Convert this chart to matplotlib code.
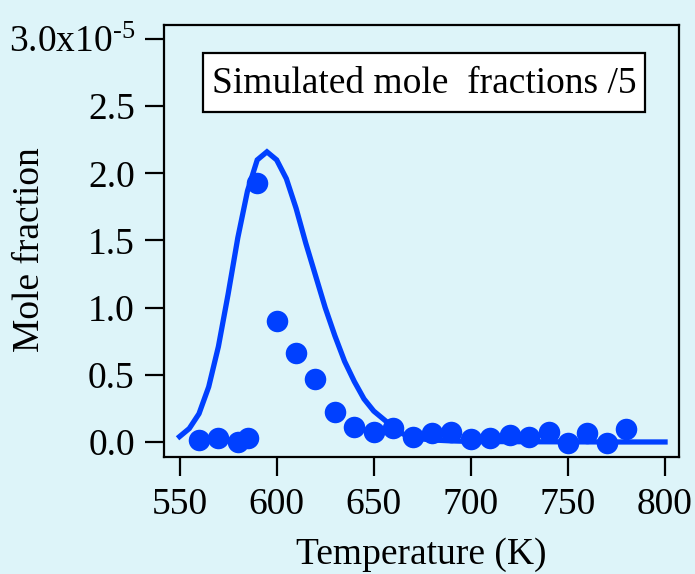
import numpy as np
import matplotlib
matplotlib.use("Agg")
import matplotlib.pyplot as plt
from matplotlib.patches import Rectangle

plt.rcParams['font.family'] = ['Liberation Serif', 'DejaVu Serif']
plt.rcParams['mathtext.default'] = 'regular'

# Simulated mole fraction curve (already divided by 5), units of 1e-5
sim_temp = [550, 555, 560, 565, 570, 575, 580, 585, 590, 595, 600, 605, 610,
            615, 620, 625, 630, 635, 640, 645, 650, 655, 660, 665, 670, 680,
            690, 700, 725, 750, 775, 800]
sim_frac = [0.04, 0.10, 0.21, 0.41, 0.71, 1.10, 1.52, 1.87, 2.10, 2.16, 2.10,
            1.96, 1.74, 1.48, 1.24, 1.00, 0.79, 0.60, 0.45, 0.32, 0.23, 0.17,
            0.11, 0.06, 0.03, 0.015, 0.008, 0.004, 0.002, 0.001, 0.0, 0.0]

# Measured mole fractions, units of 1e-5
exp_temp = [560, 570, 580, 585, 590, 600, 610, 620, 630, 640, 650, 660, 670,
            680, 690, 700, 710, 720, 730, 740, 750, 760, 770, 780]
exp_frac = [0.015, 0.03, 0.0, 0.03, 1.93, 0.90, 0.66, 0.47, 0.225, 0.11, 0.072,
            0.107, 0.04, 0.065, 0.077, 0.02, 0.032, 0.052, 0.04, 0.077, -0.005,
            0.065, -0.005, 0.10]

y_ticks = [0.0, 0.5, 1.0, 1.5, 2.0, 2.5, 3.0]
y_tick_labels = ['0.0', '0.5', '1.0', '1.5', '2.0', '2.5',
                 '3.0x10$^{\u20105}$']
x_ticks = [550, 600, 650, 700, 750, 800]

scale = 1e-5
bg = '#ddf4f9'
blue = '#0040ff'
fs = 27

fig = plt.figure(figsize=(6.95, 5.74), dpi=100, facecolor=bg)
ax = fig.add_axes([0.236, 0.2038, 0.741, 0.7526], facecolor=bg)

ax.plot(sim_temp, np.array(sim_frac) * scale, color=blue, lw=3.8,
        solid_joinstyle='miter', zorder=2)
ax.plot(exp_temp, np.array(exp_frac) * scale, 'o', color=blue, ms=15.5,
        mec='none', zorder=3)

ax.set_xlim(542, 807.2)
ax.set_ylim(-0.112 * scale, 3.104 * scale)

ax.set_xticks(x_ticks)
ax.set_xticklabels([str(t) for t in x_ticks])
ax.set_yticks(np.array(y_ticks) * scale)
ax.set_yticklabels(y_tick_labels)

for s in ax.spines.values():
    s.set_linewidth(1.6)
ax.tick_params(axis='both', direction='out', length=14, width=1.6,
               labelsize=fs, color='black')
ax.tick_params(axis='y', pad=7)
ax.tick_params(axis='x', pad=8)

ax.set_xlabel('Temperature (K)', fontsize=fs)
ax.set_ylabel('Mole fraction', fontsize=fs)
ax.xaxis.set_label_coords(0.5, -0.185)
ax.yaxis.set_label_coords(-0.228, 0.479)

# Annotation box
ax.add_patch(Rectangle((0.0757, 0.799), 0.858, 0.136, transform=ax.transAxes,
                       fc='white', ec='black', lw=1.6, zorder=4))
ax.text(0.505, 0.865, 'Simulated mole  fractions /5', transform=ax.transAxes,
        fontsize=fs, va='center', ha='center', zorder=5)

fig.savefig('out.png', dpi=100, facecolor=bg)
